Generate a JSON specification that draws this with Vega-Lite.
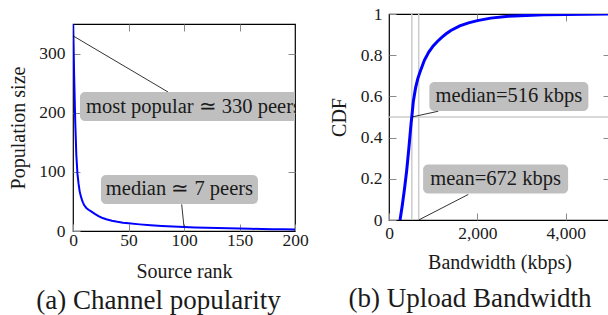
{
  "$schema": "https://vega.github.io/schema/vega-lite/v6.json",
  "padding": {"left": 8, "top": 4, "right": 0, "bottom": 0},
  "background": "white",
  "spacing": 19,
  "config": {
    "font": "Liberation Serif",
    "view": {"stroke": "#000000", "strokeWidth": 1.2},
    "axis": {
      "domain": false, "grid": false, "tickColor": "#8a8a8a", "tickSize": -7, "tickWidth": 1,
      "labelFontSize": 17.5, "labelColor": "#1a1a1a", "labelFlush": false, "labelOverlap": false,
      "titleFontSize": 20, "titleFontWeight": "normal", "titleColor": "#1a1a1a"
    },
    "title": {"fontSize": 27, "fontWeight": "normal", "color": "#1a1a1a"}
  },
  "datasets": {
    "pop": [
      {"rank": 0, "size": 370}, {"rank": 1, "size": 265}, {"rank": 2, "size": 185}, {"rank": 3, "size": 128},
      {"rank": 4, "size": 97}, {"rank": 5, "size": 80}, {"rank": 6, "size": 67}, {"rank": 7, "size": 59},
      {"rank": 8, "size": 53}, {"rank": 9, "size": 48}, {"rank": 10, "size": 44}, {"rank": 12, "size": 39},
      {"rank": 14, "size": 36}, {"rank": 16, "size": 33.5}, {"rank": 18, "size": 31}, {"rank": 20, "size": 28.5},
      {"rank": 23, "size": 25}, {"rank": 26, "size": 22.5}, {"rank": 30, "size": 20}, {"rank": 35, "size": 17.3},
      {"rank": 40, "size": 15.5}, {"rank": 45, "size": 14}, {"rank": 50, "size": 13}, {"rank": 60, "size": 11.2},
      {"rank": 70, "size": 9.8}, {"rank": 80, "size": 8.6}, {"rank": 90, "size": 7.6}, {"rank": 100, "size": 6.8},
      {"rank": 110, "size": 6.1}, {"rank": 120, "size": 5.5}, {"rank": 130, "size": 5}, {"rank": 140, "size": 4.5},
      {"rank": 150, "size": 4.1}, {"rank": 160, "size": 3.7}, {"rank": 170, "size": 3.4}, {"rank": 180, "size": 3.1},
      {"rank": 190, "size": 2.8}, {"rank": 200, "size": 2.6}
    ],
    "popNotes": [
      {"id": "top", "label": "most popular ≃ 330 peers", "x": 0, "y": 330, "bx": 85.6, "by": 235, "cx": 109, "cy": 210.5},
      {"id": "med", "label": "median ≃ 7 peers", "x": 100, "y": 7, "bx": 97.9, "by": 45, "cx": 95.9, "cy": 70.2}
    ],
    "cdf": [
      {"bw": 250, "p": 0}, {"bw": 300, "p": 0.07}, {"bw": 350, "p": 0.15}, {"bw": 400, "p": 0.24},
      {"bw": 450, "p": 0.35}, {"bw": 500, "p": 0.47}, {"bw": 516, "p": 0.5}, {"bw": 550, "p": 0.575},
      {"bw": 600, "p": 0.64}, {"bw": 650, "p": 0.685}, {"bw": 700, "p": 0.717}, {"bw": 800, "p": 0.775},
      {"bw": 900, "p": 0.815}, {"bw": 1000, "p": 0.845}, {"bw": 1100, "p": 0.868}, {"bw": 1200, "p": 0.888},
      {"bw": 1300, "p": 0.905}, {"bw": 1400, "p": 0.92}, {"bw": 1600, "p": 0.942}, {"bw": 1800, "p": 0.957},
      {"bw": 2000, "p": 0.968}, {"bw": 2300, "p": 0.98}, {"bw": 2700, "p": 0.989}, {"bw": 3100, "p": 0.993},
      {"bw": 3500, "p": 0.996}, {"bw": 4000, "p": 0.998}, {"bw": 4500, "p": 0.999}, {"bw": 5000, "p": 1}
    ],
    "refs": [{"v": 516}, {"v": 672}],
    "cdfNotes": [
      {"id": "med", "label": "median=516 kbps", "x": 516, "y": 0.5, "bx": 1115, "by": 0.528, "cx": 2712, "cy": 0.6},
      {"id": "mean", "label": "mean=672 kbps", "x": 672, "y": 0, "bx": 1794, "by": 0.124, "cx": 2412, "cy": 0.199}
    ]
  },
  "hconcat": [
    {
      "spacing": 0,
      "vconcat": [
        {
          "width": 10,
          "height": 8,
          "view": {"stroke": null},
          "data": {"values": [{"k": 1}]},
          "mark": {"type": "point", "opacity": 0},
          "encoding": {}
        },
        {
          "width": 222,
          "height": 207,
          "title": {"text": "(a) Channel popularity", "orient": "bottom", "anchor": "middle", "frame": "bounds", "offset": 6},
          "resolve": {"axis": {"x": "independent", "y": "independent"}},
          "layer": [
            {
              "data": {"name": "pop"},
              "mark": {"type": "line", "color": "#0000ff", "strokeWidth": 2, "clip": true},
              "encoding": {
                "x": {"field": "rank", "type": "quantitative", "scale": {"domain": [0, 200]},
                      "axis": {"orient": "bottom", "values": [0, 50, 100, 150, 200], "title": "Source rank", "labelPadding": 7, "titlePadding": 13}},
                "y": {"field": "size", "type": "quantitative", "scale": {"domain": [0, 350]},
                      "axis": {"orient": "left", "values": [0, 100, 200, 300], "format": "d", "title": "Population size", "labelPadding": 15, "titlePadding": 10}}
              }
            },
            {
              "data": {"name": "popNotes"},
              "mark": {"type": "rule", "color": "#000000", "strokeWidth": 0.8},
              "encoding": {
                "x": {"field": "x", "type": "quantitative", "scale": {"domain": [0, 200]},
                      "axis": {"orient": "top", "values": [50, 100, 150], "labels": false, "title": null}},
                "y": {"field": "y", "type": "quantitative", "scale": {"domain": [0, 350]},
                      "axis": {"orient": "right", "values": [100, 200, 300], "labels": false, "title": null}},
                "x2": {"field": "bx"},
                "y2": {"field": "by"}
              }
            },
            {
              "data": {"name": "popNotes"},
              "transform": [{"filter": "datum.id == 'top'"}],
              "mark": {"type": "rect", "width": 228, "height": 29, "cornerRadius": 5, "color": "#bfbfbf", "clip": true},
              "encoding": {
                "x": {"field": "cx", "type": "quantitative", "scale": {"domain": [0, 200]}, "axis": null},
                "y": {"field": "cy", "type": "quantitative", "scale": {"domain": [0, 350]}, "axis": null}
              }
            },
            {
              "data": {"name": "popNotes"},
              "transform": [{"filter": "datum.id == 'top'"}],
              "mark": {"type": "text", "fontSize": 20.5, "align": "left", "baseline": "middle", "dx": -108, "color": "#1a1a1a", "clip": true},
              "encoding": {
                "x": {"field": "cx", "type": "quantitative", "scale": {"domain": [0, 200]}, "axis": null},
                "y": {"field": "cy", "type": "quantitative", "scale": {"domain": [0, 350]}, "axis": null},
                "text": {"field": "label"}
              }
            },
            {
              "data": {"name": "popNotes"},
              "transform": [{"filter": "datum.id == 'med'"}],
              "mark": {"type": "rect", "width": 157, "height": 29, "cornerRadius": 5, "color": "#bfbfbf"},
              "encoding": {
                "x": {"field": "cx", "type": "quantitative", "scale": {"domain": [0, 200]}, "axis": null},
                "y": {"field": "cy", "type": "quantitative", "scale": {"domain": [0, 350]}, "axis": null}
              }
            },
            {
              "data": {"name": "popNotes"},
              "transform": [{"filter": "datum.id == 'med'"}],
              "mark": {"type": "text", "fontSize": 20.5, "align": "center", "baseline": "middle", "color": "#1a1a1a"},
              "encoding": {
                "x": {"field": "cx", "type": "quantitative", "scale": {"domain": [0, 200]}, "axis": null},
                "y": {"field": "cy", "type": "quantitative", "scale": {"domain": [0, 350]}, "axis": null},
                "text": {"field": "label"}
              }
            }
          ]
        }
      ]
    },
    {
      "width": 221,
      "height": 206,
      "title": {"text": "(b) Upload Bandwidth", "orient": "bottom", "anchor": "middle", "frame": "bounds", "offset": 13},
      "resolve": {"axis": {"x": "independent", "y": "independent"}},
      "layer": [
        {
          "data": {"name": "refs"},
          "mark": {"type": "rule", "color": "#cccccc", "strokeWidth": 1.5},
          "encoding": {
            "x": {"field": "v", "type": "quantitative", "scale": {"domain": [0, 5000]}, "axis": null}
          }
        },
        {
          "data": {"values": [{"level": 0.5}]},
          "mark": {"type": "rule", "color": "#cccccc", "strokeWidth": 1.5},
          "encoding": {
            "y": {"field": "level", "type": "quantitative", "scale": {"domain": [0, 1]}, "axis": null}
          }
        },
        {
          "data": {"name": "cdf"},
          "mark": {"type": "line", "color": "#0000ff", "strokeWidth": 3, "clip": true},
          "encoding": {
            "x": {"field": "bw", "type": "quantitative", "scale": {"domain": [0, 5000]},
                  "axis": {"orient": "bottom", "values": [0, 2000, 4000], "format": ",d", "title": "Bandwidth (kbps)", "labelPadding": 11, "titlePadding": 11}},
            "y": {"field": "p", "type": "quantitative", "scale": {"domain": [0, 1]},
                  "axis": {"orient": "left", "values": [0, 0.2, 0.4, 0.6, 0.8, 1], "format": "~g", "title": "CDF", "labelPadding": 14, "titlePadding": 11}}
          }
        },
        {
          "data": {"name": "cdfNotes"},
          "mark": {"type": "rule", "color": "#000000", "strokeWidth": 0.8},
          "encoding": {
            "x": {"field": "x", "type": "quantitative", "scale": {"domain": [0, 5000]},
                  "axis": {"orient": "top", "values": [2000, 4000], "labels": false, "title": null}},
            "y": {"field": "y", "type": "quantitative", "scale": {"domain": [0, 1]},
                  "axis": {"orient": "right", "values": [0.2, 0.4, 0.6, 0.8], "labels": false, "title": null}},
            "x2": {"field": "bx"},
            "y2": {"field": "by"}
          }
        },
        {
          "data": {"name": "cdfNotes"},
          "transform": [{"filter": "datum.id == 'med'"}],
          "mark": {"type": "rect", "width": 159, "height": 29, "cornerRadius": 5, "color": "#bfbfbf"},
          "encoding": {
            "x": {"field": "cx", "type": "quantitative", "scale": {"domain": [0, 5000]}, "axis": null},
            "y": {"field": "cy", "type": "quantitative", "scale": {"domain": [0, 1]}, "axis": null}
          }
        },
        {
          "data": {"name": "cdfNotes"},
          "transform": [{"filter": "datum.id == 'mean'"}],
          "mark": {"type": "rect", "width": 145, "height": 29, "cornerRadius": 5, "color": "#bfbfbf"},
          "encoding": {
            "x": {"field": "cx", "type": "quantitative", "scale": {"domain": [0, 5000]}, "axis": null},
            "y": {"field": "cy", "type": "quantitative", "scale": {"domain": [0, 1]}, "axis": null}
          }
        },
        {
          "data": {"name": "cdfNotes"},
          "mark": {"type": "text", "fontSize": 20.5, "align": "center", "baseline": "middle", "color": "#1a1a1a"},
          "encoding": {
            "x": {"field": "cx", "type": "quantitative", "scale": {"domain": [0, 5000]}, "axis": null},
            "y": {"field": "cy", "type": "quantitative", "scale": {"domain": [0, 1]}, "axis": null},
            "text": {"field": "label"}
          }
        }
      ]
    }
  ]
}
